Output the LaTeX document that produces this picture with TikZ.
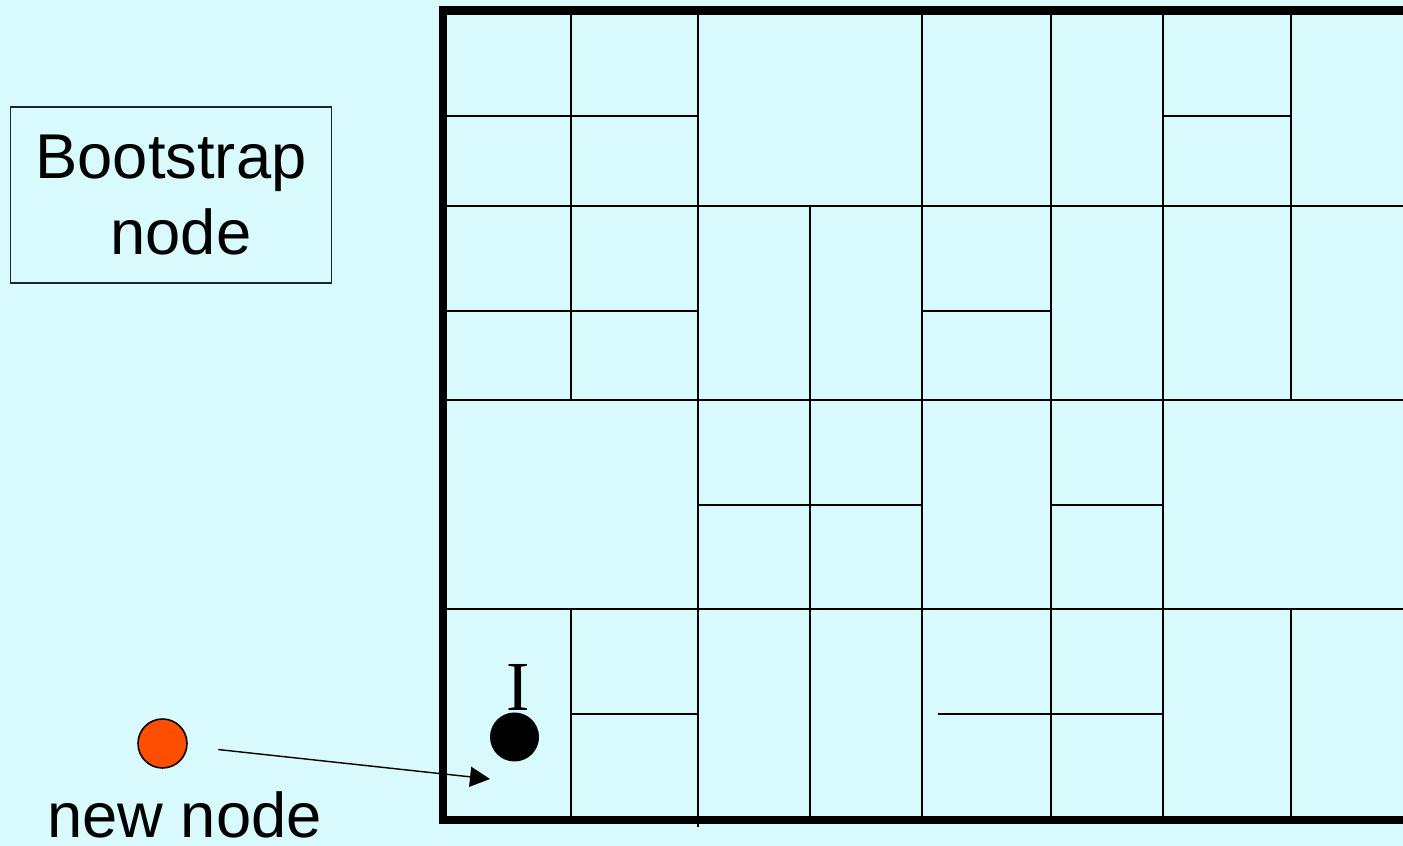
\documentclass[tikz,border=0pt]{standalone}
\usepackage{fontspec}
\setmainfont{Liberation Serif}
\setsansfont{Liberation Sans}
\usepackage{xcolor}
\usepackage{tikz}
\usetikzlibrary{positioning,arrows.meta}
\definecolor{paper}    {HTML}{D8FAFC}
\definecolor{ink}      {HTML}{000000}
\definecolor{boxline}  {HTML}{1A2A2A}
\definecolor{newbie}   {HTML}{FF4E00}
\tikzset{
  zone/.style   = {draw=ink, line width=0.45pt},
  outer/.style  = {draw=ink, line width=2.3pt},
  boot/.style   = {draw=boxline, line width=0.4pt, minimum width=3.21cm,
                   minimum height=1.76cm, align=center, inner sep=0pt,
                   font=\sffamily\fontsize{18}{21.6}\selectfont},
  peer/.style   = {circle, fill=ink, minimum size=4.9mm, inner sep=0pt},
  joiner/.style = {circle, fill=newbie, draw=ink, line width=0.45pt,
                   minimum size=4.9mm, inner sep=0pt},
  lbl/.style    = {font=\sffamily\fontsize{18}{21.6}\selectfont, inner sep=0pt},
  flow/.style   = {-{Triangle[length=2mm, width=2mm]}, draw=ink, line width=0.4pt},
}
\begin{document}
\begin{tikzpicture}
  \fill[paper] (0,0) rectangle (14.03,8.46);
  \useasboundingbox (0,0) rectangle (14.03,8.46);
  \clip (0,0) rectangle (14.03,8.46);

  % coordinate space, full-width splits
  \draw[zone] (4.43,6.40) -- (14.2,6.40);
  \draw[zone] (4.43,4.46) -- (14.2,4.46);
  \draw[zone] (4.43,2.37) -- (14.2,2.37);

  % top band
  \foreach \x in {5.71,6.98,9.22,10.51,11.63,12.91}
    \draw[zone] (\x,6.40) -- (\x,8.355);
  \draw[zone] (4.43,7.30) -- (6.98,7.30);
  \draw[zone] (11.63,7.30) -- (12.91,7.30);

  % second band
  \foreach \x in {5.71,6.98,8.10,9.22,10.51,11.63,12.91}
    \draw[zone] (\x,4.46) -- (\x,6.40);
  \draw[zone] (4.43,5.35) -- (6.98,5.35);
  \draw[zone] (9.22,5.35) -- (10.51,5.35);

  % third band
  \foreach \x in {6.98,8.10,9.22,10.51,11.63}
    \draw[zone] (\x,2.37) -- (\x,4.46);
  \draw[zone] (6.98,3.41) -- (9.22,3.41);
  \draw[zone] (10.51,3.41) -- (11.63,3.41);

  % bottom band
  \foreach \x in {5.71,8.10,9.22,10.51,11.63,12.91}
    \draw[zone] (\x,0.26) -- (\x,2.37);
  \draw[zone] (6.98,0.19) -- (6.98,2.37);
  \draw[zone] (5.71,1.32) -- (6.98,1.32);
  \draw[zone] (9.38,1.32) -- (11.63,1.32);

  % outer frame
  \draw[outer] (4.43,0.26) rectangle (14.3,8.355);

  % bootstrap
  \node[boot] (bootstrap) at (1.71,6.51) {\raisebox{-2pt}{Bootstrap}\\ \hspace*{0.2cm}\raisebox{-2pt}{node}};

  % nodes
  \node[peer] (owner) at (5.145,1.09) {};
  \node[font=\fontsize{20}{24}\selectfont, inner sep=0pt, anchor=base] (ownerI)
    at (5.186,1.35) {I};
  \node[joiner] (newcomer) at (1.625,1.025) {};
  \node[lbl, anchor=base] (newlbl) at (1.845,0.08) {new node};
  \coordinate (entry) at (4.90,0.67);
  \draw[flow, shorten <=3.1mm] (newcomer) -- (entry);
\end{tikzpicture}
\end{document}
